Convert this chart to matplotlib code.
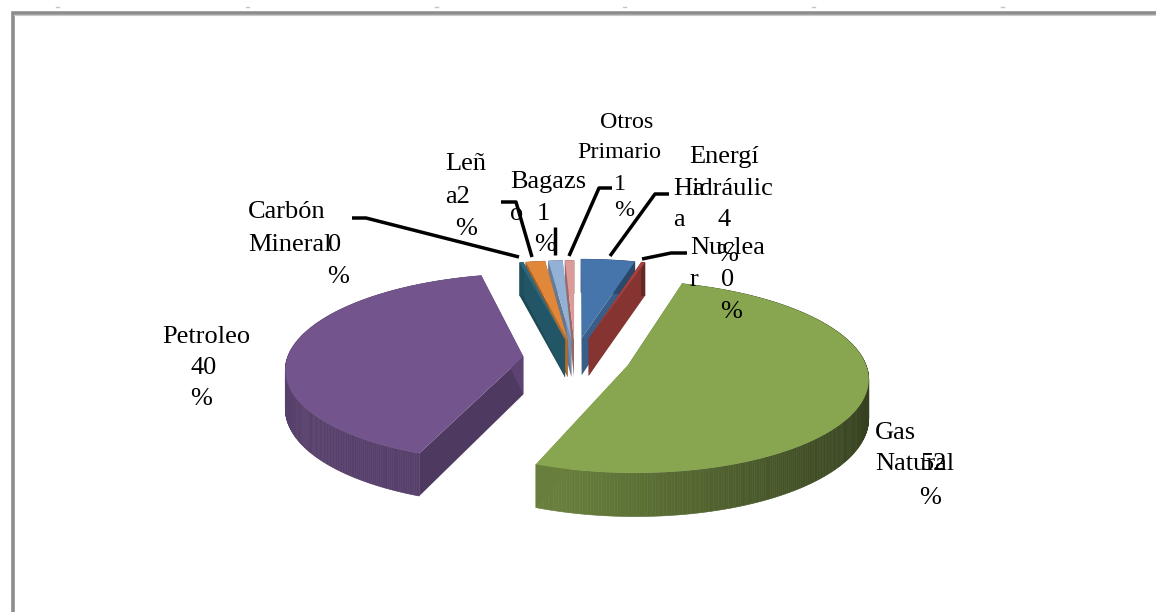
import numpy as np
import matplotlib.pyplot as plt
from matplotlib.colors import to_rgb
from matplotlib.patches import Polygon

names = ['Energía Hidráulica', 'Nuclear', 'Gas Natural', 'Petroleo',
         'Carbón Mineral', 'Leña', 'Bagazo', 'Otros Primario']
values = [4.2, 0.3, 51.5, 40.4, 0.3, 1.5, 1.1, 0.7]
colors = ['#4675ab', '#a8413e', '#88a64f', '#73548d',
          '#2b6a7e', '#e0873a', '#93b0d6', '#dc9a98']
explode = [0.22, 0.22, 0.235, 0.22, 0.2, 0.2, 0.2, 0.2]

# pie geometry, in screen pixels and pie radii
U0, V0 = 575, 358
SX, SY = 236, 93
DEPTH = 38
PERSP = 0.12


def project(x, y, z=0.0):
    s = 1 / (1 + PERSP * y)
    return U0 + SX * x * s, V0 - SY * y * s + DEPTH * z * s


def shade(col, f):
    return tuple(c * f for c in to_rgb(col))


def wall_factor(theta):
    return np.clip(0.68 - 0.3 * np.sin(theta), 0.37, 0.76)


fig = plt.figure(figsize=(11.56, 6.12), dpi=100)
ax = fig.add_axes([0, 0, 1, 1])
ax.set_xlim(0, 1156)
ax.set_ylim(612, 0)
ax.axis('off')

# frame and the small marks above it
ax.plot([12.5, 12.5, 1156], [612, 13, 13], color='#8c8c8c', lw=2.6,
        solid_joinstyle='miter', zorder=1)
ax.plot([14, 1156], [15, 15], color='#c8c8c8', lw=0.8, zorder=1)
for mx in [57, 247, 436, 624, 813, 1002]:
    ax.plot([mx - 1.5, mx + 1.5], [7, 7], color='#c4c4c4', lw=1, zorder=1)

# wedge angles run clockwise from the top
total = sum(values)
edges = np.cumsum([0] + values) / total * 2 * np.pi

# far wedges first so that the nearer ones cover them
z = 2
for i in [7, 6, 5, 4, 0, 1, 3, 2]:
    a0, a1 = edges[i], edges[i + 1]
    mid = (a0 + a1) / 2
    cx, cy = explode[i] * np.sin(mid), explode[i] * np.cos(mid)
    th = np.linspace(a0, a1, max(4, int((a1 - a0) / 0.01)))
    px = cx + np.sin(th)
    py = cy + np.cos(th)
    col = colors[i]

    # side faces
    for a, f in ((a0, 0.68), (a1, 0.8)):
        ex, ey = cx + np.sin(a), cy + np.cos(a)
        xs = np.linspace(cx, ex, 12)
        ys = np.linspace(cy, ey, 12)
        up = [project(p, q) for p, q in zip(xs, ys)]
        dn = [project(p, q, 1) for p, q in zip(xs, ys)]
        ax.add_patch(Polygon(up + dn[::-1], closed=True, fc=shade(col, f),
                             ec='none', zorder=z))
        z += 1

    # outer rim, split up so the shading can change along it
    for k in range(len(th) - 1):
        quad = [project(px[k], py[k]), project(px[k + 1], py[k + 1]),
                project(px[k + 1], py[k + 1], 1), project(px[k], py[k], 1)]
        c = shade(col, wall_factor(th[k]))
        ax.add_patch(Polygon(quad, closed=True, fc=c, ec=c, lw=0.4, zorder=z))
    z += 1

    # top face
    top = [project(cx, cy)] + [project(p, q) for p, q in zip(px, py)]
    ax.add_patch(Polygon(top, closed=True, fc=col, ec='none', zorder=z))
    z += 1

# leader lines
leaders = [
    ([352, 366, 519], [218, 218, 257]),
    ([501, 516, 532], [202, 202, 257]),
    ([555, 555], [227, 255]),
    ([612, 599, 569], [188, 188, 256]),
    ([669, 655, 610], [194, 194, 256]),
    ([687, 671, 642], [253, 253, 259]),
]
for lx, ly in leaders:
    ax.plot(lx, ly, color='black', lw=2.5, solid_capstyle='butt', zorder=200)

pct = [str(round(v)) for v in values]

# labels wrap badly in their small boxes, so each line is placed by itself
pieces = [
    ('Otros', 627, 122, 'center', 17.3),
    ('Primario', 619, 153, 'center', 17.3),
    (pct[7], 620, 184, 'center', 17.3),
    ('%', 624, 211, 'center', 17.3),
    ('Leñ', 445, 164, 'left', 19),
    ('a' + pct[5], 445, 197, 'left', 19),
    ('%', 466, 229, 'center', 19),
    ('Bagazs', 510, 182, 'left', 19),
    ('o', 510, 214, 'left', 19),
    (pct[6], 543, 214, 'center', 19),
    ('%', 545, 245, 'center', 19),
    ('Energí', 689, 157, 'left', 19),
    ('Hidráulic', 673, 189, 'left', 19),
    ('a', 692, 189, 'left', 19),
    ('a', 673, 220, 'left', 19),
    (pct[0], 724, 220, 'center', 19),
    ('%', 727, 255, 'center', 19),
    ('Nuclea', 690, 248, 'left', 19),
    ('r', 690, 280, 'left', 19),
    (pct[1], 728, 280, 'center', 19),
    ('%', 731, 312, 'center', 19),
    ('Carbón', 248, 212, 'left', 19),
    ('Mineral', 248, 245, 'left', 19),
    (pct[4], 335, 245, 'center', 19),
    ('%', 338, 277, 'center', 19),
    ('Petroleo', 162, 337, 'left', 19),
    (pct[3], 204, 368, 'center', 19),
    ('%', 201, 399, 'center', 19),
    ('Gas', 875, 433, 'left', 19),
    ('Natural', 875, 464, 'left', 19),
    (pct[2], 934, 464, 'center', 19),
    ('%', 930, 498, 'center', 19),
]
for txt, x, y, ha, size in pieces:
    ax.text(x, y, txt, ha=ha, va='center', fontsize=size,
            family='Liberation Serif', color='black', zorder=300)

fig.savefig('out.png', dpi=100, facecolor='white')
